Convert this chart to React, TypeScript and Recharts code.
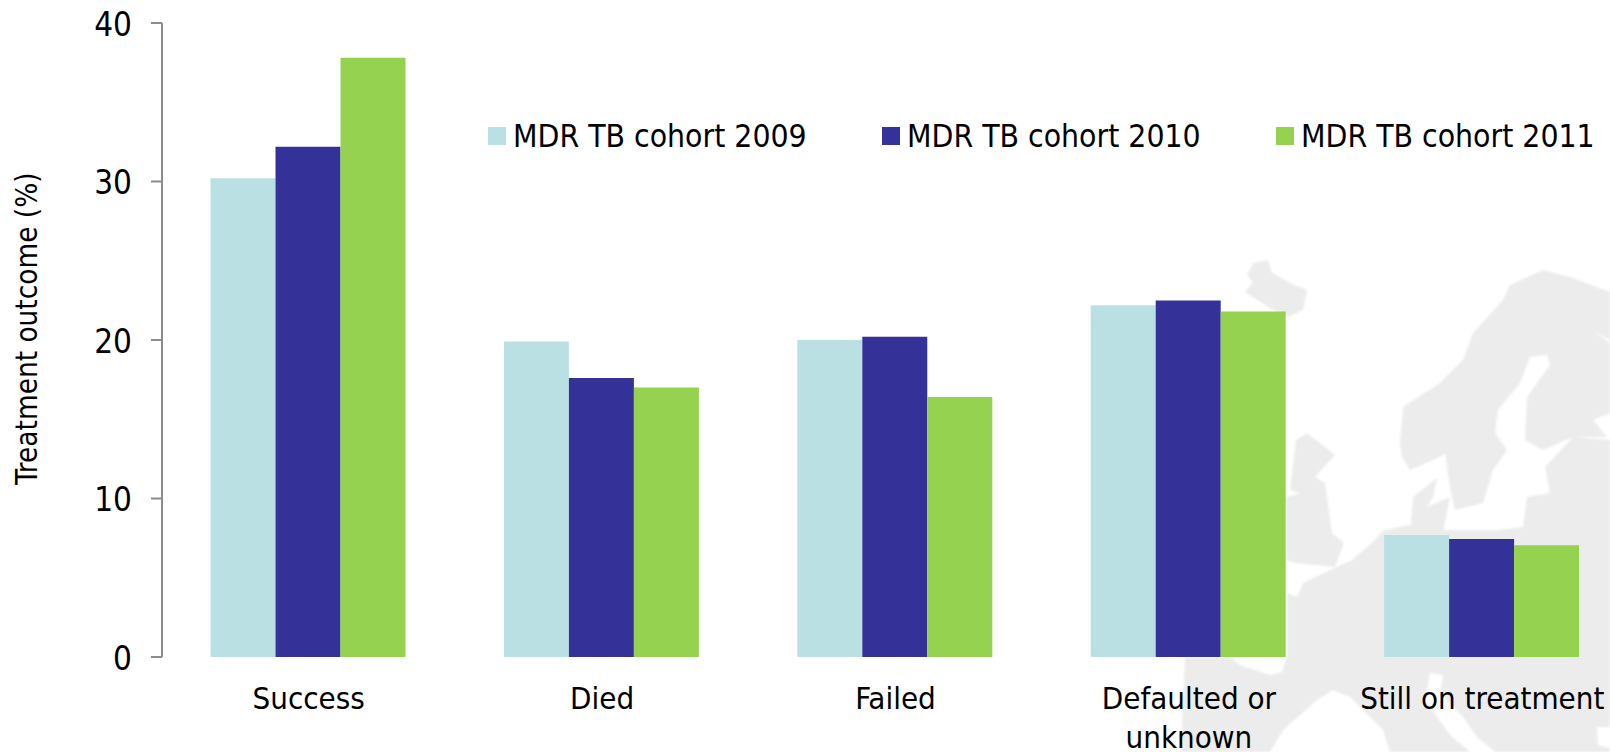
import React from "react";
import { BarChart, Bar, XAxis, YAxis, Legend } from "recharts";

const categories = ["Success", "Died", "Failed", "Defaulted or\nunknown", "Still on treatment"];
const cohort2009 = [30.2, 19.9, 20.0, 22.2, 7.7];
const cohort2010 = [32.2, 17.6, 20.2, 22.5, 7.45];
const cohort2011 = [37.8, 17.0, 16.4, 21.8, 7.05];
const yTicks = [0, 10, 20, 30, 40];

const seriesNames = ["MDR TB cohort 2009", "MDR TB cohort 2010", "MDR TB cohort 2011"];
const seriesColors = ["#bae0e3", "#343298", "#94d250"];

const FONT = '"DejaVu Sans Condensed", "DejaVu Sans", sans-serif';

const data = categories.map((name, i) => ({
  name,
  c2009: cohort2009[i],
  c2010: cohort2010[i],
  c2011: cohort2011[i],
}));

// faint map of Europe behind the bars
const MAP_GRAY = "#ececec";
const mapLand = [
  "1253,263 1268,260 1272,273 1290,283 1307,290 1303,310 1288,317 1270,308 1245,292 1253,282 1247,275",
  "1402,457 1400,443 1403,407 1440,383 1463,360 1473,333 1503,300 1510,285 1543,270 1570,277 1610,292 1610,340 1592,330 1610,343 1610,413 1593,420 1607,437 1573,437 1543,450 1525,440 1527,397 1550,365 1547,355 1530,357 1520,383 1498,410 1495,433 1507,450 1493,470 1483,503 1467,507 1455,510 1450,487 1445,453 1440,457 1410,470",
  "1413,497 1437,478 1433,497 1427,507 1450,497 1443,533 1410,535",
  "1307,433 1335,455 1315,477 1325,483 1332,533 1344,543 1335,567 1296,563 1286,560 1286,497 1300,493 1290,490 1296,440",
  "1287,593 1297,597 1303,583 1330,570 1352,560 1375,540 1384,530 1410,525 1440,530 1470,530 1500,530 1523,527 1527,497 1550,493 1545,467 1573,437 1610,440 1610,727 1597,727 1598,745 1610,748 1610,752 1181,752 1185,657 1230,657 1240,665 1270,675 1282,672 1287,655",
];
const mapSea = [
  "1270,752 1283,730 1317,700 1333,690 1350,697 1370,717 1383,730 1390,752",
  "1430,673 1443,675 1440,693 1463,717 1477,737 1495,752 1470,752 1450,735 1425,700",
];

const CategoryTick = (props: any) => {
  const { x, y, payload } = props;
  const lines = String(payload.value).split("\n");
  return (
    <text x={x} textAnchor="middle" fontFamily={FONT} fontSize={31} fill="#000">
      {lines.map((line, i) => (
        <tspan key={line} x={x} y={y + 39 * i + 44}>
          {line}
        </tspan>
      ))}
    </text>
  );
};

const CohortLegend = () => (
  <div style={{ position: "relative", width: 1140, height: 40, fontFamily: FONT, fontSize: 31.6, color: "#000" }}>
    {seriesNames.map((name, i) => (
      <div key={name} style={{ position: "absolute", left: [0, 394, 788][i], top: 0, display: "flex", alignItems: "center", whiteSpace: "nowrap" }}>
        <span style={{ width: 18, height: 18, marginRight: 7, background: seriesColors[i], display: "inline-block" }} />
        {name}
      </div>
    ))}
  </div>
);

export default function App() {
  return (
    <div style={{ position: "absolute", left: 0, top: 0, width: 1610, height: 752, overflow: "hidden", background: "#fff" }}>
      <svg width={1610} height={752} style={{ position: "absolute", left: 0, top: 0 }}>
        <g style={{ filter: "blur(0.8px)" }}>
          {mapLand.map((pts) => (
            <polygon key={pts} points={pts} fill={MAP_GRAY} />
          ))}
          {mapSea.map((pts) => (
            <polygon key={pts} points={pts} fill="#fff" />
          ))}
        </g>
      </svg>
      <div style={{ position: "absolute", left: 0, top: 0 }}>
        <BarChart
          width={1640}
          height={752}
          data={data}
          margin={{ top: 23, right: 11, left: 0, bottom: 0 }}
          barCategoryGap={48.5}
          barGap={0}
        >
          <XAxis
            dataKey="name"
            axisLine={false}
            tickLine={false}
            height={95}
            interval={0}
            tick={<CategoryTick />}
          />
          <YAxis
            width={162}
            domain={[0, 40]}
            ticks={yTicks}
            tickSize={11}
            tickMargin={19}
            stroke="#8c8c8c"
            strokeWidth={2}
            tick={{ fill: "#000", fontSize: 33, fontFamily: FONT, dy: 1 }}
            label={{
              value: "Treatment outcome (%)",
              angle: -90,
              position: "insideLeft",
              dx: 22,
              dy: 145,
              style: { fill: "#000", fontSize: 29.4, fontFamily: FONT },
            }}
          />
          <Legend
            layout="horizontal"
            verticalAlign="middle"
            align="center"
            content={<CohortLegend />}
            wrapperStyle={{ left: 488, top: 118, width: 1140 }}
          />
          <Bar dataKey="c2009" name={seriesNames[0]} fill={seriesColors[0]} isAnimationActive={false} />
          <Bar dataKey="c2010" name={seriesNames[1]} fill={seriesColors[1]} isAnimationActive={false} />
          <Bar dataKey="c2011" name={seriesNames[2]} fill={seriesColors[2]} isAnimationActive={false} />
        </BarChart>
      </div>
    </div>
  );
}
